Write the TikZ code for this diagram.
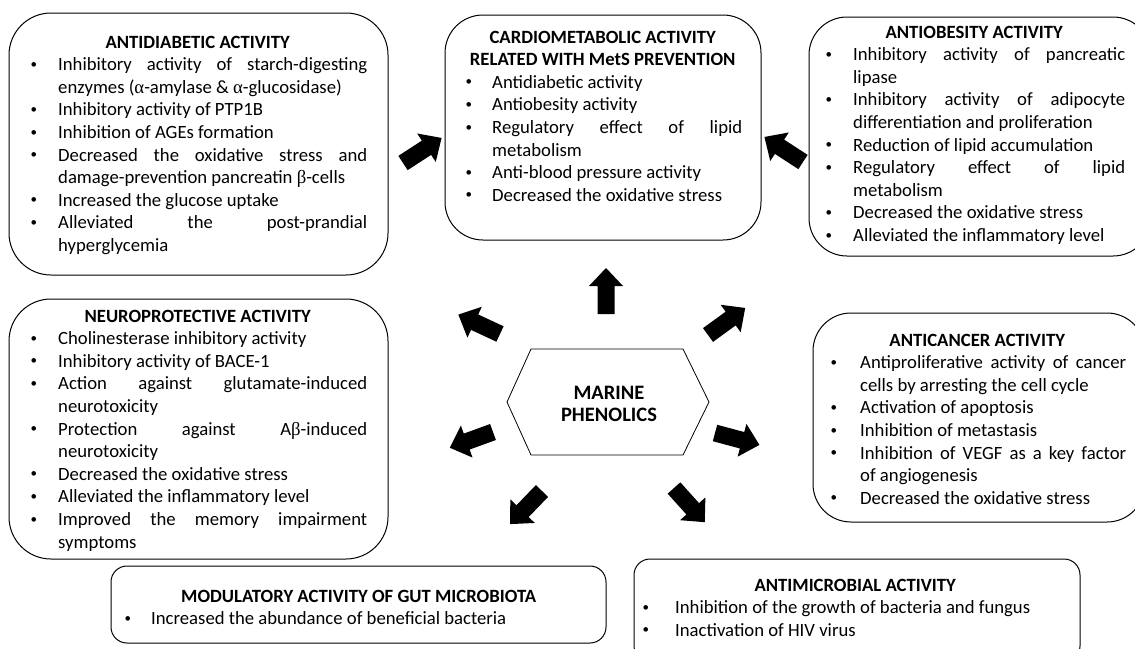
\documentclass[tikz,border=0pt]{standalone}
\usepackage{fontspec}
\setmainfont{Carlito}
\newfontfamily\grkfont{Liberation Serif}
\newcommand{\myalpha}{{\grkfont α}}
\newcommand{\mybeta}{{\grkfont β}}
\newlength{\bind}
\newcommand{\bitem}[1]{\par\noindent\hangindent=\bind\hangafter=1\makebox[\bind][l]{\hspace{2.5pt}\raisebox{2.4pt}{\fontsize{13}{13}\selectfont\textbullet}}#1}
\newcommand{\blist}[4]{\parbox[t]{#1}{\fontsize{18.7}{22.6}\selectfont\setlength{\bind}{#2}\tolerance=10000\hbadness=10000\hyphenpenalty=10000\exhyphenpenalty=10000\parindent=0pt{\centering\bfseries #3\par}#4}}
\tikzset{
  rbox/.style={draw=black, line width=1pt, fill=none, inner sep=0pt},
  txt/.style={anchor=base west, inner sep=0pt},
  barrow/.pic={\fill[black] (0,-8.5) -- (28,-8.5) -- (28,-17) -- (46,0) -- (28,17) -- (28,8.5) -- (0,8.5) -- cycle;}
}
\begin{document}
\begin{tikzpicture}[x=1pt,y=1pt]
\useasboundingbox (0,0) rectangle (1135,-648);
\clip (0,0) rectangle (1135,-648);
\fill[white] (0,0) rectangle (1135,-648);

% boxes
\node[rbox, rounded corners=42pt, minimum width=379pt, minimum height=262pt] (b1) at (198.5,-144) {};
\node[rbox, rounded corners=38pt, minimum width=316pt, minimum height=225pt] (b2) at (603,-127.5) {};
\node[rbox, rounded corners=38pt, minimum width=342pt, minimum height=239pt] (b3) at (980,-136.5) {};
\node[rbox, rounded corners=42pt, minimum width=379pt, minimum height=260pt] (b4) at (198.5,-429) {};
\node[rbox, rounded corners=38pt, minimum width=332pt, minimum height=209pt] (b5) at (979,-417.5) {};
\node[rbox, rounded corners=16pt, minimum width=495pt, minimum height=77pt] (b6) at (358.5,-604.5) {};
\node[rbox, rounded corners=16pt, minimum width=446pt, minimum height=103pt] (b7) at (857,-610.5) {};

% texts
\node[txt] (t1) at (28,-48) {\blist{339pt}{30pt}{ANTIDIABETIC ACTIVITY}{%
\bitem{Inhibitory activity of starch-digesting\linebreak enzymes (\myalpha-amylase \& \myalpha-glucosidase)}
\bitem{Inhibitory activity of PTP1B}
\bitem{Inhibition of AGEs formation}
\bitem{Decreased the oxidative stress and\linebreak damage-prevention pancreatin \mybeta-cells}
\bitem{Increased the glucose uptake}
\bitem{Alleviated the post-prandial\linebreak hyperglycemia}}};

\node[txt] (t2) at (463,-43) {\blist{279pt}{29pt}{CARDIOMETABOLIC ACTIVITY\\RELATED WITH MetS PREVENTION}{%
\bitem{Antidiabetic activity}
\bitem{Antiobesity activity}
\bitem{Regulatory effect of lipid\linebreak metabolism}
\bitem{Anti-blood pressure activity}
\bitem{Decreased the oxidative stress}}};

\node[txt] (t3) at (823,-38) {\blist{302pt}{30pt}{ANTIOBESITY ACTIVITY}{%
\bitem{Inhibitory activity of pancreatic\linebreak lipase}
\bitem{Inhibitory activity of adipocyte\linebreak differentiation and proliferation}
\bitem{Reduction of lipid accumulation}
\bitem{Regulatory effect of lipid\linebreak metabolism}
\bitem{Decreased the oxidative stress}
\bitem{Alleviated the inflammatory level}}};

\node[txt] (t4) at (28,-322) {\blist{339pt}{30pt}{NEUROPROTECTIVE ACTIVITY}{%
\bitem{Cholinesterase inhibitory activity}
\bitem{Inhibitory activity of BACE-1}
\bitem{Action against glutamate-induced\linebreak neurotoxicity}
\bitem{Protection against A\mybeta-induced\linebreak neurotoxicity}
\bitem{Decreased the oxidative stress}
\bitem{Alleviated the inflammatory level}
\bitem{Improved the memory impairment\linebreak symptoms}}};

\node[txt] (t5) at (828,-346) {\blist{298pt}{32pt}{ANTICANCER ACTIVITY}{%
\bitem{Antiproliferative activity of cancer\linebreak cells by arresting the cell cycle}
\bitem{Activation of apoptosis}
\bitem{Inhibition of metastasis}
\bitem{Inhibition of VEGF as a key factor\linebreak of angiogenesis}
\bitem{Decreased the oxidative stress}}};

\node[txt] (t6) at (122,-602) {\blist{473pt}{29pt}{MODULATORY ACTIVITY OF GUT MICROBIOTA}{%
\bitem{Increased the abundance of beneficial bacteria}}};

\node[txt] (t7) at (640,-591) {\blist{430pt}{35pt}{ANTIMICROBIAL ACTIVITY}{%
\bitem{Inhibition of the growth of bacteria and fungus}
\bitem{Inactivation of HIV virus}}};

% centre hexagon
\draw[line width=0.8pt] (531,-349) -- (683,-349) -- (709,-402) -- (683,-455) -- (531,-455) -- (507,-402) -- cycle;
\node[align=center, font=\fontsize{20.5}{22.5}\selectfont\bfseries, inner sep=0pt] (mp) at (609,-404) {MARINE\\PHENOLICS};

% block arrows
\coordinate (a1) at (606,-314);
\coordinate (a2) at (500,-334);
\coordinate (a3) at (708,-335);
\coordinate (a4) at (493,-432);
\coordinate (a5) at (715,-433);
\coordinate (a6) at (542,-491);
\coordinate (a7) at (674,-488);
\coordinate (a8) at (403,-163);
\coordinate (a9) at (803,-162);
\pic[rotate=90] at (a1) {barrow};
\pic[rotate=155] at (a2) {barrow};
\pic[rotate=36] at (a3) {barrow};
\pic[rotate=200] at (a4) {barrow};
\pic[rotate=-15] at (a5) {barrow};
\pic[rotate=226] at (a6) {barrow};
\pic[rotate=-48] at (a7) {barrow};
\pic[rotate=33] at (a8) {barrow};
\pic[rotate=147] at (a9) {barrow};
\end{tikzpicture}
\end{document}
